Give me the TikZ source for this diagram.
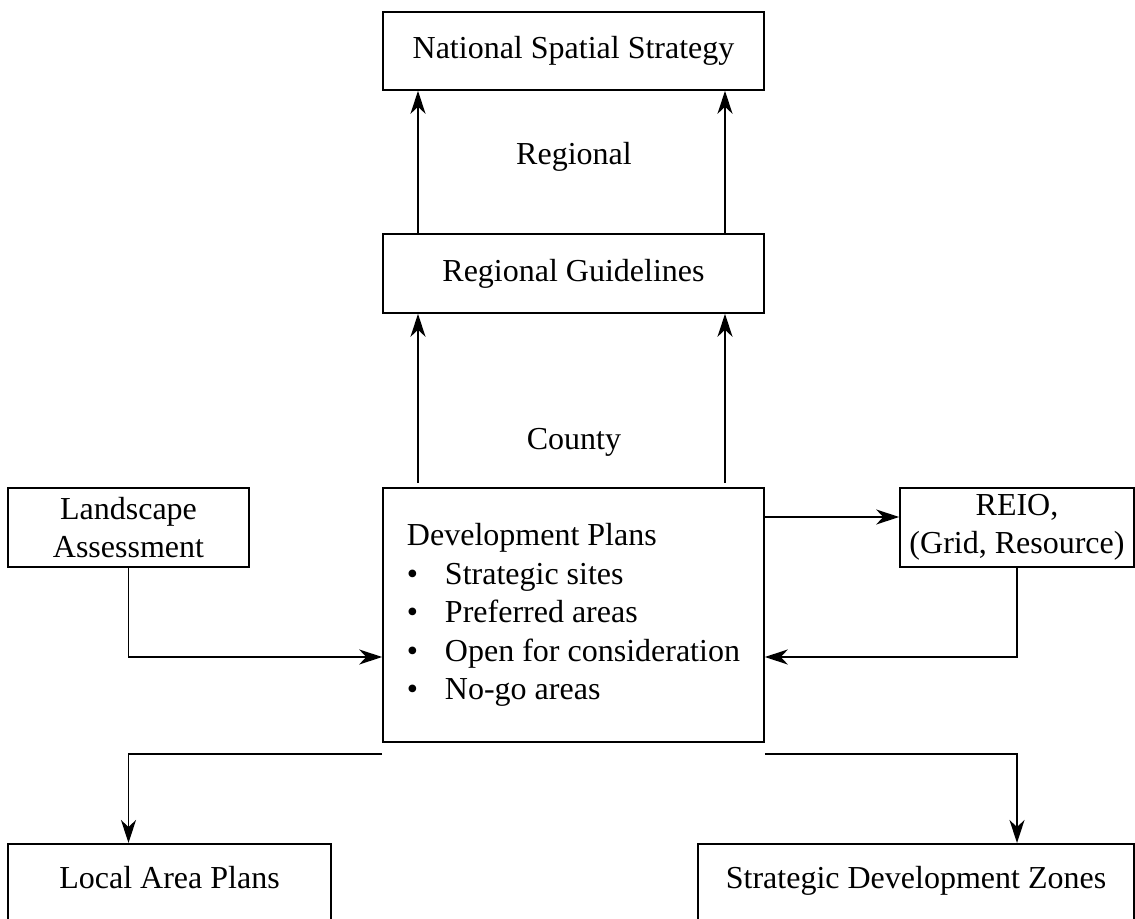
\documentclass[tikz,border=0pt]{standalone}
\usepackage{fontspec}
\setmainfont{Liberation Serif}
\usetikzlibrary{arrows.meta,calc,positioning}
\newcommand{\blt}{\makebox[19pt][l]{\textbullet}}

\begin{document}
\begin{tikzpicture}[x=1pt,y=1pt,
  font=\fontsize{16}{19.2}\selectfont,
  box/.style={draw,line width=0.8pt,rectangle,inner sep=0pt,align=center,
    minimum width=190.5pt,minimum height=39.5pt},
  flow/.style={line width=0.8pt,-{Stealth[length=11.5pt,width=7.5pt,inset=3.5pt]}}]
  \useasboundingbox (0,0) rectangle (567.5,459);
  % hierarchy
  \node[box,minimum height=39pt] (nss) at (286.75,433.5) {National Spatial Strategy};
  \node[box] (rg) at (286.75,322.25) {Regional Guidelines};
  \node[box,minimum height=127pt,align=left] (dp) at (286.75,151.5)
    {Development Plans\\ \blt Strategic sites\\ \blt Preferred areas\\
     \blt Open for consideration\\ \blt No-go areas};
  \node (lblreg) at (287,380.5) {Regional};
  \node (lblcty) at (287,238) {County};
  % side boxes
  \node[box,minimum width=120.5pt] (la) at (64.25,195.25) {Landscape\\Assessment};
  \node[box,minimum width=117pt] (reio) at (508.5,195.25) {REIO,\\(Grid, Resource)};
  \node[box,minimum width=161.5pt,anchor=north,text height=22.5pt,text depth=30pt]
    (lap) at (84.75,37.5) {Local Area Plans};
  \node[box,minimum width=218pt,anchor=north,text height=22.5pt,text depth=30pt]
    (sdz) at (458,37.5) {Strategic Development Zones};
  % connectors
  \coordinate (lcol) at (209,0);
  \coordinate (rcol) at (362.5,0);
  \coordinate (top) at (0,217.5);
  \coordinate (toreio) at (0,200.5);
  \coordinate (loop) at (0,130.5);
  \coordinate (split) at (0,82);
  \foreach \c in {lcol,rcol}{
    \draw[flow] (rg.north -| \c) -- (nss.south -| \c);
    \draw[flow] (top -| \c) -- (rg.south -| \c);
  }
  \draw[flow] (dp.east |- toreio) -- (reio.west |- toreio);
  \draw[flow] (la.south) |- (dp.west |- loop);
  \draw[flow] (reio.south) |- (dp.east |- loop);
  \draw[flow] (dp.west |- split) -| (la.south |- lap.north);
  \draw[flow] (dp.east |- split) -| (reio.south |- sdz.north);
\end{tikzpicture}
\end{document}
